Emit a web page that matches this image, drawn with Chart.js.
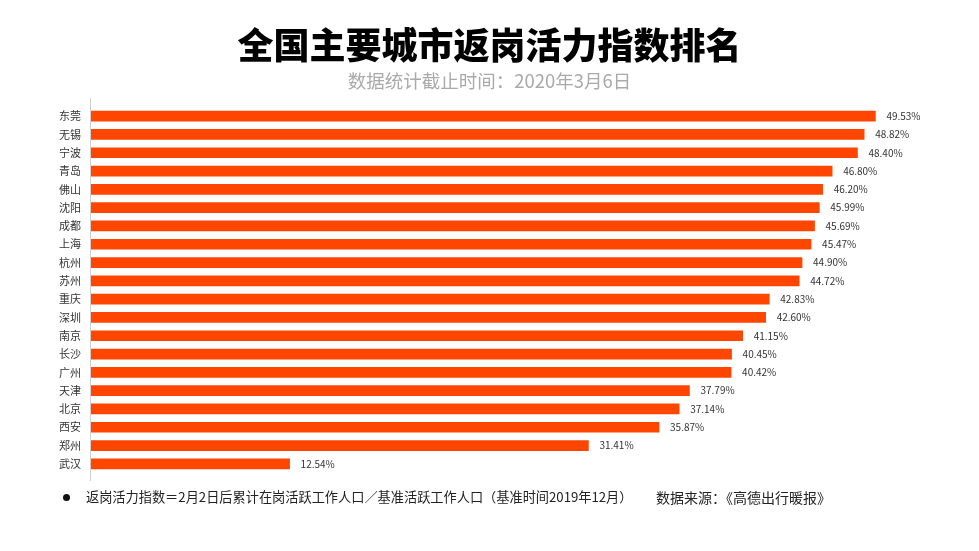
<!DOCTYPE html>
<html>
<head>
<meta charset="utf-8">
<script src="https://cdn.jsdelivr.net/npm/chart.js@4"></script>
<style>
  body { margin: 0; background: #fff; font-family: "Noto Sans CJK SC", "Noto Sans", sans-serif; }
  #wrap { position: relative; width: 979px; height: 551px; overflow: hidden; }
  #titulo { position: absolute; left: 0; width: 979px; top: 17px; text-align: center; font-size: 36px; font-weight: 900; color: #000; line-height: 52px; }
  #subtitulo { position: absolute; left: 0; width: 979px; top: 68px; text-align: center; font-size: 18.5px; color: #aaa; line-height: 24px; }
  #pie { position: absolute; left: 63px; top: 487px; font-size: 13.2px; color: #222; line-height: 20px; white-space: nowrap; }
  #pie .punto { display: inline-block; width: 7px; height: 7px; border-radius: 50%; background: #111; margin-right: 16px; vertical-align: 1px; }
  #fuente { position: absolute; left: 656px; top: 487px; font-size: 14px; color: #222; line-height: 20px; white-space: nowrap; }
  canvas { position: absolute; left: 0; top: 0; }
</style>
</head>
<body>
<div id="wrap">
  <canvas id="chartRanking" width="979" height="551"></canvas>
  <div id="titulo">全国主要城市返岗活力指数排名</div>
  <div id="subtitulo">数据统计截止时间：2020年3月6日</div>
  <div id="pie"><span class="punto"></span>返岗活力指数＝2月2日后累计在岗活跃工作人口／基准活跃工作人口（基准时间2019年12月）</div>
  <div id="fuente">数据来源：《高德出行暖报》</div>
</div>
<script>
// Datos del gráfico
const ciudades = ["东莞", "无锡", "宁波", "青岛", "佛山", "沈阳", "成都", "上海", "杭州", "苏州",
  "重庆", "深圳", "南京", "长沙", "广州", "天津", "北京", "西安", "郑州", "武汉"];
const indices = [49.53, 48.82, 48.40, 46.80, 46.20, 45.99, 45.69, 45.47, 44.90, 44.72,
  42.83, 42.60, 41.15, 40.45, 40.42, 37.79, 37.14, 35.87, 31.41, 12.54];
const etiquetas = indices.map((v) => v.toFixed(2) + "%");

// Plugin: línea del eje (un poco más larga que el área) y porcentajes al final de cada barra
const etiquetasBarras = {
  id: "etiquetasBarras",
  beforeDatasetsDraw(chart) {
    const { ctx, chartArea } = chart;
    ctx.save();
    ctx.strokeStyle = "#d0d0d0";
    ctx.lineWidth = 1;
    ctx.beginPath();
    ctx.moveTo(chartArea.left - 0.5, chartArea.top - 9);
    ctx.lineTo(chartArea.left - 0.5, chartArea.bottom + 8);
    ctx.stroke();
    ctx.restore();
  },
  afterDatasetsDraw(chart) {
    const ctx = chart.ctx;
    const meta = chart.getDatasetMeta(0);
    ctx.save();
    ctx.font = '10px "Noto Sans CJK SC", "Noto Sans", sans-serif';
    ctx.fillStyle = "#333";
    ctx.textAlign = "left";
    ctx.textBaseline = "middle";
    meta.data.forEach((barra, i) => {
      ctx.fillText(etiquetas[i], barra.x + 11, barra.y);
    });
    ctx.restore();
  },
};

const ctxRanking = document.getElementById("chartRanking").getContext("2d");
new Chart(ctxRanking, {
  type: "bar",
  data: {
    labels: ciudades,
    datasets: [
      {
        label: "返岗活力指数",
        data: indices,
        backgroundColor: "#fe4600",
        borderWidth: 0,
        barThickness: 10,
      },
    ],
  },
  options: {
    indexAxis: "y",
    responsive: false,
    animation: false,
    layout: {
      padding: { top: 107, bottom: 78, left: 0, right: 17 },
    },
    plugins: {
      legend: { display: false },
      tooltip: { enabled: false },
    },
    scales: {
      x: {
        display: false,
        min: 0,
        max: 55,
      },
      y: {
        afterFit: (scale) => {
          scale.width = 91; // eje en x = 91
        },
        grid: { display: false, drawTicks: false },
        border: { display: false },
        ticks: {
          color: "#333",
          padding: 10,
          font: { size: 11, family: '"Noto Sans CJK SC", sans-serif' },
        },
      },
    },
  },
  plugins: [etiquetasBarras],
});
</script>
</body>
</html>
